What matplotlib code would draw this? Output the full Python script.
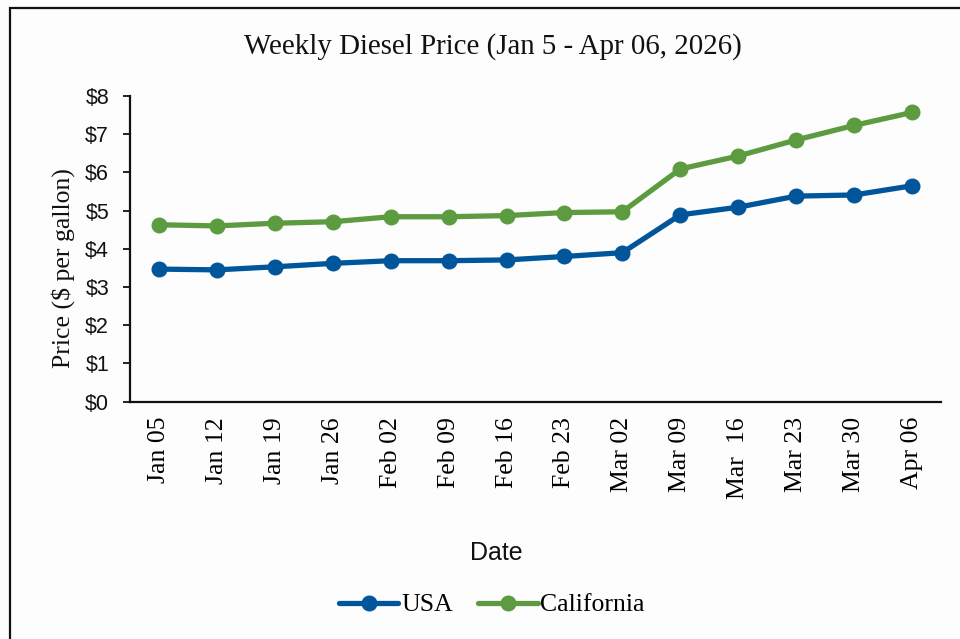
import matplotlib
matplotlib.use("Agg")
import matplotlib.pyplot as plt
from matplotlib.patches import Rectangle

dates = ["Jan 05", "Jan 12", "Jan 19", "Jan 26", "Feb 02", "Feb 09", "Feb 16",
         "Feb 23", "Mar 02", "Mar 09", "Mar  16", "Mar 23", "Mar 30", "Apr 06"]
usa = [3.47, 3.45, 3.53, 3.62, 3.69, 3.69, 3.71, 3.80, 3.90, 4.89, 5.09, 5.38, 5.41, 5.65]
california = [4.63, 4.60, 4.67, 4.71, 4.84, 4.84, 4.87, 4.95, 4.97, 6.09, 6.43, 6.85, 7.23, 7.57]
yticks = [0, 1, 2, 3, 4, 5, 6, 7, 8]
ytick_labels = ["$0", "$1", "$2", "$3", "$4", "$5", "$6", "$7", "$8"]

W, H = 960, 639
fig = plt.figure(figsize=(W / 100, H / 100), dpi=100, facecolor="#fdfdfd")
ax = fig.add_axes([130 / W, 1 - 401.7 / H, (941 - 130) / W, (401.7 - 96) / H])
ax.set_facecolor("#fdfdfd")

blue = "#01569B"
green = "#5D9B41"
x = list(range(len(dates)))
ax.plot(x, usa, color=blue, lw=3.8, marker="o", ms=10.5, label="USA", solid_capstyle="round")
ax.plot(x, california, color=green, lw=3.8, marker="o", ms=10.5, label="California", solid_capstyle="round")

ax.set_xlim(-0.5, len(dates) - 0.5)
ax.set_ylim(0, 8)
ax.set_yticks(yticks)
ax.set_yticklabels(ytick_labels, fontfamily="Liberation Sans", fontsize=15.5)
ax.set_xticks(x)
ax.set_xticklabels(dates, rotation=90, fontfamily="Liberation Serif", fontsize=18.5)
ax.tick_params(axis="x", length=0, pad=11)
ax.tick_params(axis="y", direction="out", length=5, width=1.3, pad=10, colors="#111111")
for s in ["top", "right"]:
    ax.spines[s].set_visible(False)
for s in ["left", "bottom"]:
    ax.spines[s].set_linewidth(1.6)
    ax.spines[s].set_color("#111111")

fig.text(493 / W, 1 - 47 / H, "Weekly Diesel Price (Jan 5 - Apr 06, 2026)",
         ha="center", va="center", fontfamily="Liberation Serif", fontsize=20.8, color="#111111")
fig.text(63 / W, 1 - 268 / H, "Price ($ per gallon)", rotation=90,
         ha="center", va="center", fontfamily="Liberation Serif", fontsize=18.5, color="#111111")
fig.text(496 / W, 1 - 553 / H, "Date", ha="center", va="center",
         fontfamily="Liberation Sans", fontsize=18, color="#111111")

leg = fig.legend(loc="center", bbox_to_anchor=(492 / W, 1 - 605 / H), ncol=2, frameon=False,
                 prop={"family": "Liberation Serif", "size": 18.5}, handlelength=2.3,
                 handletextpad=0.1, columnspacing=1.0, borderaxespad=0)

fig.patches.append(Rectangle((10 / W, -0.1), 1.2, 1 - 8 / H + 0.1, transform=fig.transFigure,
                             fill=False, edgecolor="#111111", lw=1.6, figure=fig))

fig.savefig("out.png", dpi=100, facecolor=fig.get_facecolor())
